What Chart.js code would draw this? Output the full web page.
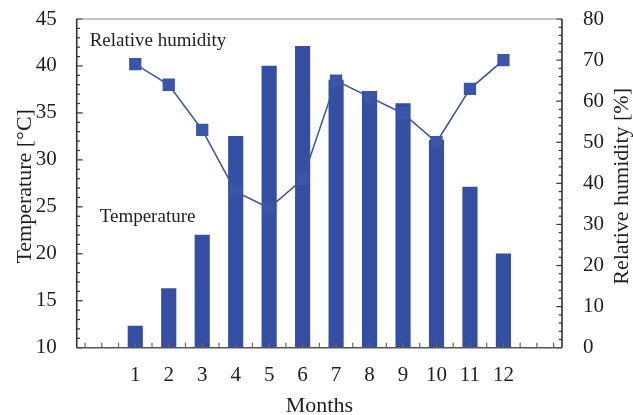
<!DOCTYPE html>
<html>
<head>
<meta charset="utf-8">
<script src="https://cdn.jsdelivr.net/npm/chart.js@4"></script>
<style>
  html, body { margin: 0; padding: 0; background: #fff; }
  #wrap { width: 633px; height: 415px; }
</style>
</head>
<body>
<div id="wrap"><canvas id="c" width="633" height="415"></canvas></div>
<script>
// Monthly climate: mean temperature (bars) and relative humidity (line)
const months = [1, 2, 3, 4, 5, 6, 7, 8, 9, 10, 11, 12];
const temperature = [12.3, 16.3, 22.0, 32.5, 40.0, 42.1, 38.5, 37.3, 36.0, 32.1, 27.1, 20.0];
const humidity = [69, 64, 53, 38, 34, 41, 65, 61, 57, 50, 63, 70];
const tempTicks = [10, 15, 20, 25, 30, 35, 40, 45];
const humidityTicks = [0, 10, 20, 30, 40, 50, 60, 70, 80];

const SERIF = '"Liberation Serif", "Times New Roman", serif';
const TEXT = '#1e1e1e';
const BLUE = '#344ea1';

// Inward tick marks, frame and axis titles
const framePlugin = {
  id: 'frame',
  afterDatasetsDraw(chart) {
    const { ctx, chartArea: a, scales } = chart;
    const x = scales.x, y = scales.y, y2 = scales.y2;
    ctx.save();

    // bottom ticks every half month, pointing up
    ctx.strokeStyle = '#666';
    ctx.lineWidth = 1.2;
    for (const t of x.ticks) {
      const px = x.getPixelForValue(t.value);
      ctx.beginPath(); ctx.moveTo(px, a.bottom); ctx.lineTo(px, a.bottom - 5); ctx.stroke();
    }
    // left axis: minor every 1, major every 5
    ctx.strokeStyle = '#333';
    const tStep = tempTicks[1] - tempTicks[0];
    for (let v = y.min; v <= y.max + 1e-9; v += 1) {
      const py = y.getPixelForValue(v);
      const len = Math.abs(v % tStep) < 1e-9 ? 6 : 3.3;
      ctx.beginPath(); ctx.moveTo(a.left, py); ctx.lineTo(a.left + len, py); ctx.stroke();
    }
    // right axis: minor every 2, major every 10
    const hStep = humidityTicks[1] - humidityTicks[0];
    for (let v = y2.min; v <= y2.max + 1e-9; v += 2) {
      const py = y2.getPixelForValue(v);
      const len = Math.abs(v % hStep) < 1e-9 ? 5.7 : 3.3;
      ctx.beginPath(); ctx.moveTo(a.right, py); ctx.lineTo(a.right - len, py); ctx.stroke();
    }

    // frame
    ctx.lineWidth = 1;
    ctx.strokeStyle = '#8a8a8a';
    ctx.beginPath(); ctx.moveTo(a.left, a.top); ctx.lineTo(a.right, a.top); ctx.stroke();
    ctx.lineWidth = 1.6;
    ctx.strokeStyle = '#555';
    ctx.beginPath(); ctx.moveTo(a.left, a.bottom); ctx.lineTo(a.right, a.bottom); ctx.stroke();
    ctx.strokeStyle = '#333';
    ctx.beginPath(); ctx.moveTo(a.left, a.top); ctx.lineTo(a.left, a.bottom); ctx.stroke();
    ctx.beginPath(); ctx.moveTo(a.right, a.top); ctx.lineTo(a.right, a.bottom); ctx.stroke();

    // series labels inside the plot
    ctx.fillStyle = TEXT;
    ctx.font = '19px ' + SERIF;
    ctx.textAlign = 'left';
    ctx.textBaseline = 'alphabetic';
    ctx.fillText('Relative humidity', a.left + 13, a.top + 26.5);
    ctx.fillText('Temperature', a.left + 23, a.top + 203);

    // axis titles
    ctx.font = '22px ' + SERIF;
    ctx.textAlign = 'center';
    const midY = (a.top + a.bottom) / 2 + 3;
    ctx.save();
    ctx.translate(a.left - 46, midY);
    ctx.rotate(-Math.PI / 2);
    ctx.fillText('Temperature [°C]', 0, 0);
    ctx.restore();
    ctx.save();
    ctx.translate(a.right + 66, midY);
    ctx.rotate(-Math.PI / 2);
    ctx.fillText('Relative humidity [%]', 0, 0);
    ctx.restore();
    ctx.fillText('Months', (a.left + a.right) / 2, a.bottom + 64);

    ctx.restore();
  }
};

// fixed axis widths; no extra vertical padding from tick labels
const fitVertical = w => s => { s.width = w; s.paddingTop = 0; s.paddingBottom = 0; };

new Chart(document.getElementById('c'), {
  data: {
    datasets: [
      {
        type: 'line',
        label: 'Relative humidity',
        data: months.map((m, i) => ({ x: m, y: humidity[i] })),
        yAxisID: 'y2',
        order: 0,
        borderColor: '#3a53a4',
        borderWidth: 1.5,
        pointStyle: 'rect',
        pointRadius: 8.7,
        pointBackgroundColor: '#3b56a7',
        pointBorderWidth: 0,
        tension: 0
      },
      {
        type: 'bar',
        label: 'Temperature',
        data: months.map((m, i) => ({ x: m, y: temperature[i] })),
        yAxisID: 'y',
        order: 1,
        backgroundColor: BLUE,
        borderWidth: 0,
        barThickness: 14.5
      }
    ]
  },
  options: {
    responsive: false,
    animation: false,
    devicePixelRatio: 1,
    layout: { padding: { top: 19, left: 0, right: 0, bottom: 0 } },
    plugins: { legend: { display: false }, tooltip: { enabled: false } },
    scales: {
      x: {
        type: 'linear',
        min: months[0] - 1.5,
        max: months[months.length - 1] + 1.5,
        grid: { display: false, drawTicks: false },
        border: { display: false },
        ticks: {
          stepSize: 0.5,
          autoSkip: false,
          maxRotation: 0,
          padding: 15,
          color: TEXT,
          font: { family: SERIF, size: 21 },
          callback: v => (months.includes(v) ? String(v) : '')
        },
        afterFit: s => { s.height = 67.3; s.paddingLeft = 0; s.paddingRight = 0; }
      },
      y: {
        type: 'linear',
        position: 'left',
        min: tempTicks[0],
        max: tempTicks[tempTicks.length - 1],
        grid: { display: false, drawTicks: false },
        border: { display: false },
        ticks: {
          stepSize: tempTicks[1] - tempTicks[0],
          padding: 20,
          color: TEXT,
          font: { family: SERIF, size: 21 }
        },
        afterFit: fitVertical(76.7)
      },
      y2: {
        type: 'linear',
        position: 'right',
        min: humidityTicks[0],
        max: humidityTicks[humidityTicks.length - 1],
        grid: { display: false, drawTicks: false },
        border: { display: false },
        ticks: {
          stepSize: humidityTicks[1] - humidityTicks[0],
          padding: 21,
          color: TEXT,
          font: { family: SERIF, size: 21 }
        },
        afterFit: fitVertical(71)
      }
    }
  },
  plugins: [framePlugin]
});
</script>
</body>
</html>
